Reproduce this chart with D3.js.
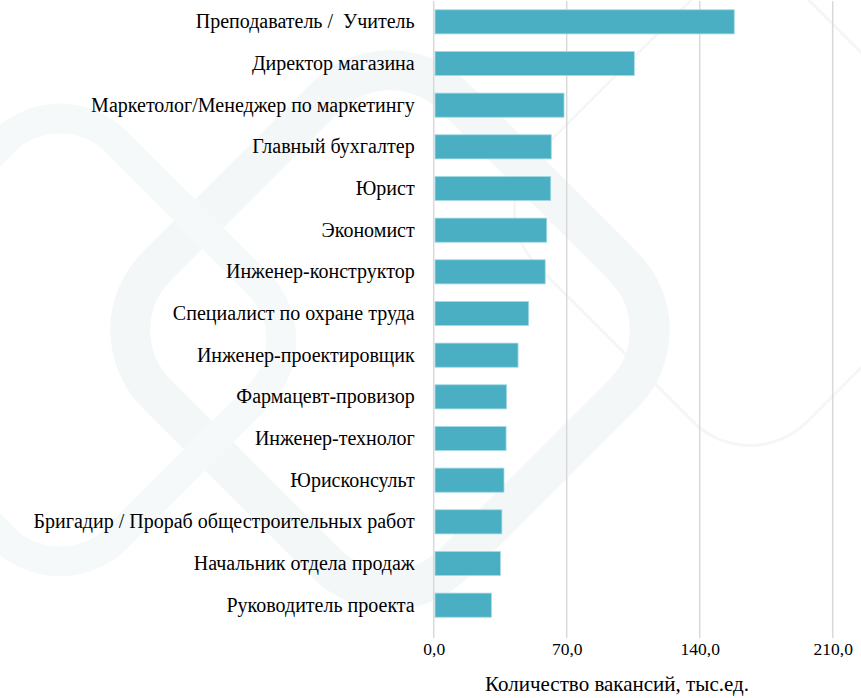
<!DOCTYPE html>
<html><head><meta charset="utf-8">
<script src="https://cdn.jsdelivr.net/npm/d3@7"></script>
<style>html,body{margin:0;padding:0;background:#fff;}svg{display:block;}</style>
</head><body>
<svg id="c" width="861" height="698"></svg>
<script>
const categories = [
  "Преподаватель /  Учитель",
  "Директор магазина",
  "Маркетолог/Менеджер по маркетингу",
  "Главный бухгалтер",
  "Юрист",
  "Экономист",
  "Инженер-конструктор",
  "Специалист по охране труда",
  "Инженер-проектировщик",
  "Фармацевт-провизор",
  "Инженер-технолог",
  "Юрисконсульт",
  "Бригадир / Прораб общестроительных работ",
  "Начальник отдела продаж",
  "Руководитель проекта"
];
const values = [158.2, 105.6, 68.6, 61.9, 61.6, 59.5, 58.7, 50.0, 44.4, 38.4, 38.1, 37.0, 35.9, 35.1, 30.4];
const tickValues = [0, 70, 140, 210];
const axisTitle = "Количество вакансий, тыс.ед.";

const font = "Liberation Serif, Tinos, Times New Roman, DejaVu Serif, serif";
const svg = d3.select("#c");

// faint background watermark
const bg = svg.append("g").attr("fill", "none");
bg.append("rect").attr("x", 180).attr("y", 120).attr("width", 420).attr("height", 420).attr("rx", 90)
  .attr("transform", "rotate(45 390 330)").attr("stroke", "#f3f7f8").attr("stroke-width", 40);
bg.append("rect").attr("x", 560).attr("y", 20).attr("width", 380).attr("height", 380).attr("rx", 80)
  .attr("transform", "rotate(45 750 210)").attr("stroke", "#f5f6f6").attr("stroke-width", 3);
bg.append("rect").attr("x", -120).attr("y", 160).attr("width", 360).attr("height", 360).attr("rx", 80)
  .attr("transform", "rotate(45 60 340)").attr("stroke", "#f6f9f9").attr("stroke-width", 30);

const x = d3.scaleLinear().domain([0, 210]).range([433.7, 832.7]);
const y = d3.scaleBand().domain(categories).range([1, 626]).paddingInner(0.42).paddingOuter(0.21);

// gridlines
svg.append("g").selectAll("line").data(tickValues).join("line")
  .attr("x1", d => x(d)).attr("x2", d => x(d))
  .attr("y1", 1).attr("y2", 638)
  .attr("stroke", "#d9d9d9").attr("stroke-width", 1.5);

// bars
svg.append("g").selectAll("rect").data(values).join("rect")
  .attr("x", x(0) + 1.3)
  .attr("y", (d, i) => y(categories[i]))
  .attr("width", d => x(d) - x(0) - 1.3)
  .attr("height", y.bandwidth())
  .attr("fill", "#4aafc3")
  .attr("stroke", "#a8dbe5").attr("stroke-width", 0.8);

// category labels
const ya = d3.axisLeft(y).tickSize(0).tickPadding(19);
const gy = svg.append("g").attr("transform", `translate(${x(0)},0)`).call(ya);
gy.select(".domain").remove();
gy.attr("font-family", font).attr("font-size", 20);
gy.selectAll("text").attr("font-family", font).attr("font-size", 20)
  .attr("xml:space", "preserve").style("white-space", "pre").attr("fill", "#000");

// x tick labels
const xa = d3.axisBottom(x).tickValues(tickValues).tickSize(0).tickPadding(0)
  .tickFormat(d => d3.format(".1f")(d).replace(".", ","));
const gx = svg.append("g").attr("transform", "translate(0,643)").call(xa);
gx.select(".domain").remove();
gx.attr("font-family", font).attr("font-size", 17.5);
gx.selectAll("text").attr("font-family", font).attr("font-size", 17.5).attr("fill", "#000");

svg.append("text").attr("x", 617).attr("y", 691).attr("text-anchor", "middle")
  .attr("font-family", font).attr("font-size", 21).attr("fill", "#000").text(axisTitle);
</script>
</body></html>
